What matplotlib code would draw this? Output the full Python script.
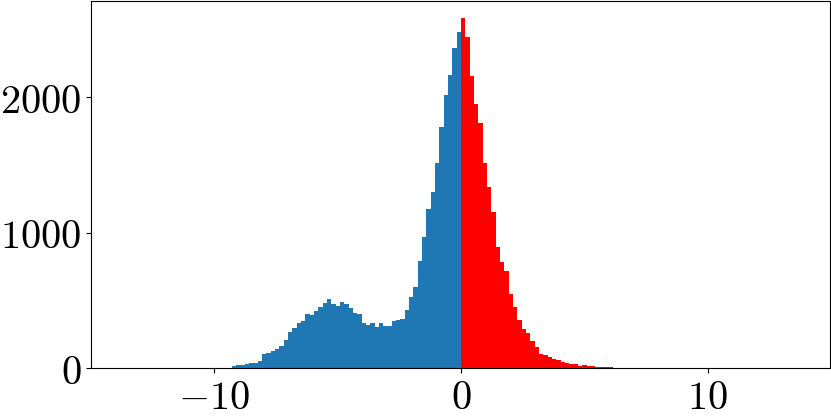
import numpy as np
import matplotlib
matplotlib.use("Agg")
import matplotlib.pyplot as plt
from matplotlib.ticker import FuncFormatter

plt.rcParams['mathtext.fontset'] = 'cm'

# histogram counts, left to right
bin_width = 0.1755
neg_counts = [15, 20, 25, 28, 35, 35, 52, 103, 108, 125,
              140, 162, 204, 268, 295, 332, 349, 396, 391, 418,
              448, 477, 509, 472, 458, 487, 475, 443, 404, 396,
              334, 317, 334, 305, 330, 312, 312, 349, 354, 359,
              428, 522, 596, 792, 964, 1171, 1297, 1511, 1781, 2017,
              2160, 2362, 2480]
pos_counts = [2588, 2445, 2155, 1946, 1806, 1515, 1338, 1151, 893, 785,
              714, 546, 448, 352, 290, 256, 197, 157, 106, 96,
              79, 64, 62, 42, 38, 31, 29, 17, 25, 17,
              12, 6, 5, 4, 10, 3, 2, 1, 1]

x_ticks = [-10, 0, 10]
y_ticks = [0, 1000, 2000]

neg_left = -bin_width * np.arange(len(neg_counts), 0, -1)
pos_left = bin_width * np.arange(len(pos_counts))

fig = plt.figure(figsize=(8.31, 4.17), dpi=100)
ax = fig.add_axes([0.1095, 0.1175, 0.8893, 0.8801])

ax.bar(neg_left, neg_counts, width=bin_width, align='edge', color='#1f77b4', linewidth=0)
ax.bar(pos_left, pos_counts, width=bin_width, align='edge', color='red', linewidth=0)

ax.set_xlim(-15.0, 14.95)
ax.set_ylim(0, 2710)
ax.set_xticks(x_ticks)
ax.set_yticks(y_ticks)

fmt = FuncFormatter(lambda v, pos: f'${v:g}$')
ax.xaxis.set_major_formatter(fmt)
ax.yaxis.set_major_formatter(fmt)
ax.tick_params(labelsize=29)

fig.savefig('out.png', dpi=100)
plt.close()
